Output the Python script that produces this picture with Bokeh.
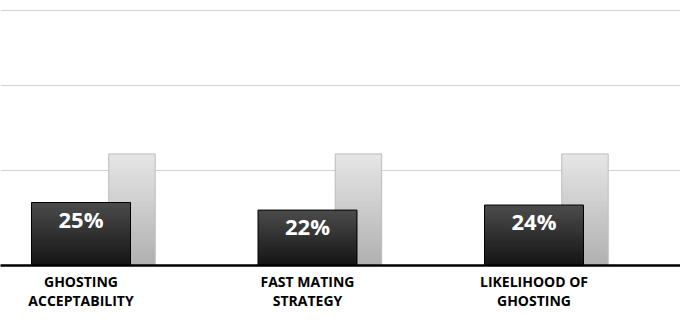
from bokeh.plotting import figure
from bokeh.models import Range1d, FixedTicker, ColumnDataSource
from bokeh.core.properties import value
from bokeh.embed import file_html
from bokeh.resources import INLINE

# ---- data ----
categories = ["GHOSTING ACCEPTABILITY", "FAST MATING STRATEGY", "LIKELIHOOD OF GHOSTING"]
tick_labels = ["GHOSTING\nACCEPTABILITY", "FAST MATING\nSTRATEGY", "LIKELIHOOD OF\nGHOSTING"]
dark_values = [25, 22, 24]
light_values = [44.3, 44.3, 44.3]
bar_labels = ["25%", "22%", "24%"]
grid_values = [37.6, 71.3, 101.1]

positions = list(range(len(categories)))
LIGHT_SHIFT = 0.225
DARK_W = 0.437
LIGHT_W = 0.205

p = figure(frame_width=680, frame_height=265, output_backend="svg", toolbar_location=None,
           x_range=Range1d(-0.3554, 2.6468), y_range=Range1d(0, 105.2),
           min_border_left=0, min_border_right=0, min_border_top=0, min_border_bottom=55)
p.outline_line_color = None
p.background_fill_color = "white"
p.border_fill_color = "white"
p.xgrid.grid_line_color = None
p.ygrid.ticker = FixedTicker(ticks=grid_values)
p.ygrid.grid_line_color = "#d2d2d2"
p.ygrid.grid_line_width = 1
p.yaxis.visible = False
p.yaxis.ticker = FixedTicker(ticks=grid_values)


def mix(c1, c2, t):
    r = [int(round(a + (b - a) * t)) for a, b in zip(c1, c2)]
    return "#%02x%02x%02x" % tuple(r)


def gradient(xs, vals, width, top_rgb, bottom_rgb, n=30):
    bx, bb, bt, bc = [], [], [], []
    for x, v in zip(xs, vals):
        for k in range(n):
            bx.append(x)
            bb.append(v * k / n)
            bt.append(min(v, v * (k + 2) / n))
            bc.append(mix(bottom_rgb, top_rgb, (k + 0.5) / n))
    src = ColumnDataSource(dict(x=bx, bottom=bb, top=bt, color=bc))
    p.vbar(x="x", bottom="bottom", top="top", width=width, source=src,
           fill_color="color", line_color=None)


light_x = [x + LIGHT_SHIFT for x in positions]
gradient(light_x, light_values, LIGHT_W, (230, 230, 230), (176, 176, 176))
p.vbar(x=light_x, top=light_values, width=LIGHT_W, fill_color=None,
       line_color="#bdbdbd", line_width=1)

gradient(positions, dark_values, DARK_W, (76, 76, 76), (20, 20, 20))
p.vbar(x=positions, top=dark_values, width=DARK_W, fill_color=None,
       line_color="#000000", line_width=1)

p.text(x=positions, y=dark_values, text=bar_labels, text_align="center",
       text_baseline="middle", y_offset=16, text_color="white",
       text_font=value("Open Sans"), text_font_style="bold", text_font_size="22px")

p.xaxis.ticker = FixedTicker(ticks=positions)
p.xaxis.major_label_overrides = {i: lab for i, lab in zip(positions, tick_labels)}
p.xaxis.major_tick_line_color = None
p.xaxis.minor_tick_line_color = None
p.xaxis.axis_line_color = "black"
p.xaxis.axis_line_width = 2.5
p.xaxis.major_label_standoff = 0
p.xaxis.major_label_text_font = "Open Sans"
p.xaxis.major_label_text_font_style = "bold"
p.xaxis.major_label_text_font_size = "14px"
p.xaxis.major_label_text_color = "black"
p.xaxis.major_label_text_line_height = 1.0

open("out.html", "w").write(file_html(p, INLINE))
